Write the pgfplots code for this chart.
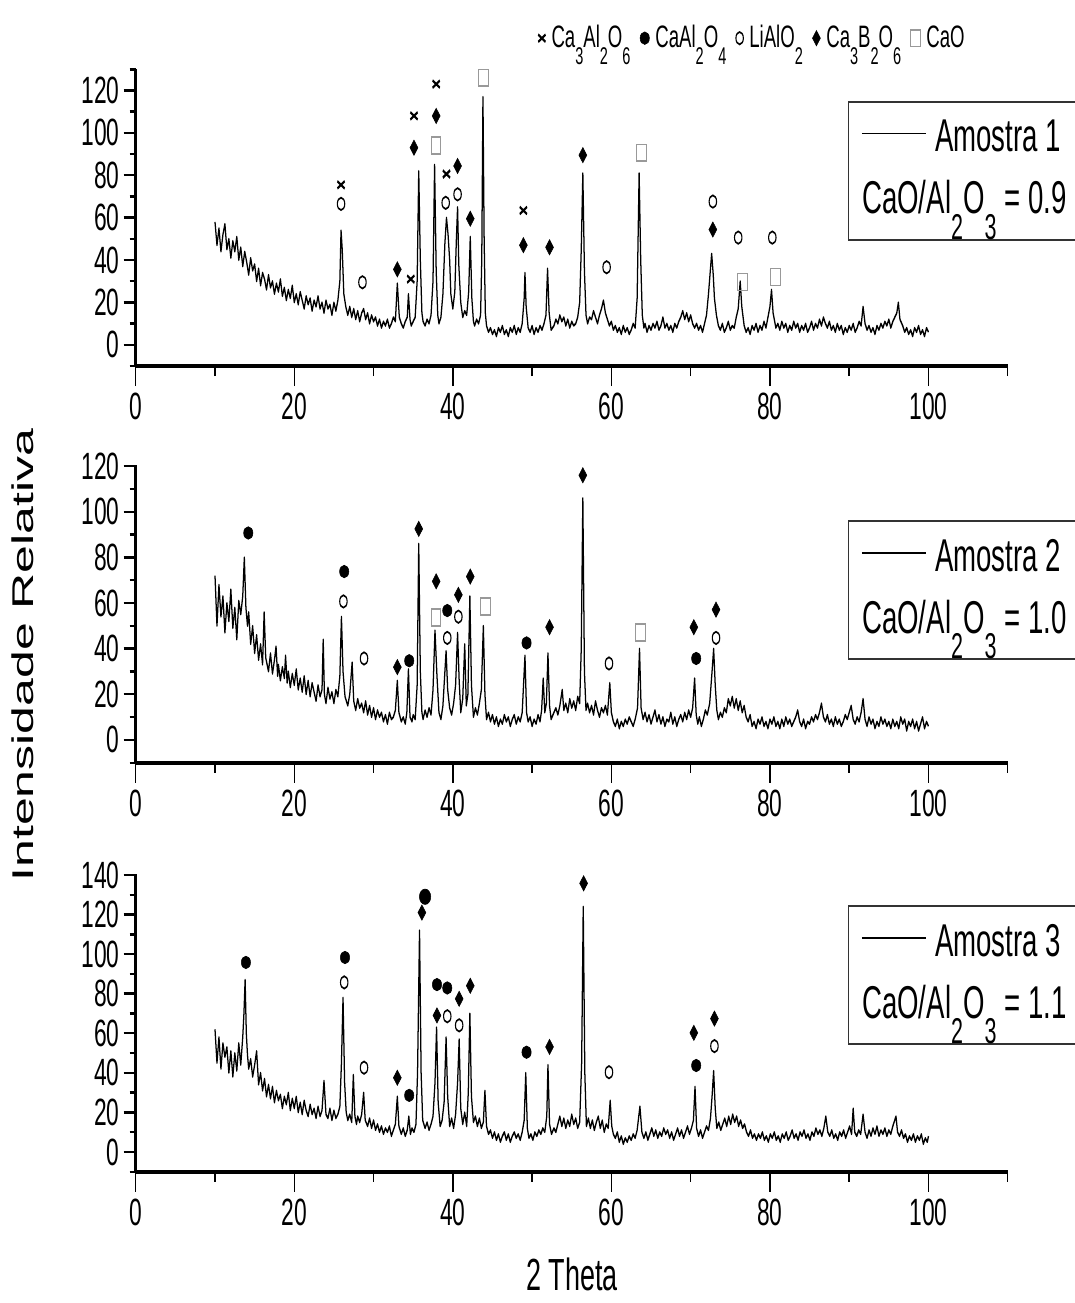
\documentclass[border=0pt]{standalone}
\usepackage{graphicx}
\usepackage{fontspec}
\setmainfont{Liberation Sans}
\usepackage{pgfplots}
\pgfplotsset{compat=1.18}
\newcommand{\sub}[1]{\raisebox{-0.55em}{\scalebox{0.78}{#1}}}
\pgfplotsset{
  xrdaxis/.style={
    scale only axis, width=726.7pt,
    xmin=0, xmax=110,
    axis x line=bottom, axis y line=left,
    axis line style={-},
    x axis line style={line width=2pt},
    y axis line style={line width=2.6pt},
    tick align=outside,
    xtick={0,20,...,100}, minor xtick={10,30,...,110},
    major tick length=10pt, minor tick length=5pt,
    tick style={black, line width=1.2pt},
    tick label style={font=\fontsize{19}{19}\selectfont},
    /pgf/number format/assume math mode=true,
    clip=false,
  },
  data/.style={black, line width=1.05pt, line join=round, no markers, forget plot},
  mX/.style={only marks, mark=x, mark size=4.3pt, mark options={black, line width=1.3pt, yscale=0.6}},
  mDot/.style={only marks, mark=*, mark size=3.1pt, mark options={black, fill=black, xscale=1.25}},
  mO/.style={only marks, mark=o, mark size=3.1pt, mark options={black, line width=0.9pt}},
  mDia/.style={only marks, mark=diamond*, mark size=3.8pt, mark options={black, fill=black, xscale=1.15}},
  mSq/.style={only marks, mark=square, mark size=4pt, mark options={black!40, line width=0.8pt, yscale=1.06}},
}
\begin{document}
\scalebox{0.6}[1]{%
\begin{tikzpicture}
\useasboundingbox (0,0) rectangle (895pt,-651.5pt);
% ---------------- Panel 1 ----------------
\begin{axis}[xrdaxis, height=148.35pt, at={(113.1pt,-183pt)}, anchor=south west,
  ymin=-10, ymax=130, ytick={0,20,...,120}, minor ytick={-10,10,...,130},
  legend columns=-1,
  legend style={at={(0.955,1)}, anchor=south east, yshift=6pt, draw=none, fill=none,
    font=\fontsize{15.5}{18}\selectfont, inner sep=1pt,
    /tikz/every odd column/.append style={column sep=3pt},
    /tikz/every even column/.append style={column sep=6pt}},
  legend image code/.code={\draw[#1] plot coordinates {(0.12cm,0cm)};},
]
\addlegendimage{mX}\addlegendentry{Ca\sub{3}Al\sub{2}O\sub{6}}
\addlegendimage{mDot}\addlegendentry{CaAl\sub{2}O\sub{4}}
\addlegendimage{mO}\addlegendentry{LiAlO\sub{2}}
\addlegendimage{mDia}\addlegendentry{Ca\sub{3}B\sub{2}O\sub{6}}
\addlegendimage{mSq}\addlegendentry{CaO}
\addplot[data] coordinates {(10,58)(10.25,47)(10.5,55)(10.75,44)(11,52)(11.25,57)(11.5,45)(11.75,50)(12,41)(12.25,49)(12.5,44)(12.75,51)(13,40)(13.25,46)(13.5,37)(13.75,44)(14,39)(14.25,33)(14.5,41)(14.75,35)(15,38)(15.25,30)(15.5,36)(15.75,28)(16,34)(16.25,31)(16.5,26)(16.75,33)(17,27)(17.25,30)(17.5,24)(17.75,29)(18,25)(18.25,31)(18.5,23)(18.75,27)(19,21)(19.25,26)(19.5,22)(19.75,28)(20,20)(20.25,24)(20.5,19)(20.75,25)(21,21)(21.25,17)(21.5,23)(21.75,19)(22,22)(22.25,16)(22.5,21)(22.75,18)(23,23)(23.25,17)(23.5,20)(23.75,15)(24,21)(24.25,17)(24.5,19)(24.75,14)(25,20)(25.25,16)(25.5,21)(25.75,30)(25.9,54)(26.05,45)(26.25,24)(26.5,18)(26.75,14)(27,18)(27.25,13)(27.5,17)(27.75,12)(28,16)(28.25,11)(28.5,15)(28.75,17)(29,12)(29.25,15)(29.5,10)(29.75,14)(30,11)(30.25,13)(30.5,9)(30.75,12)(31,8)(31.25,11)(31.5,9)(31.75,12)(32,8)(32.25,10)(32.5,13)(32.75,11)(33,29)(33.25,13)(33.5,10)(33.75,8)(34,11)(34.25,13)(34.4,24)(34.6,12)(34.75,9)(35,11)(35.25,13)(35.5,30)(35.7,82)(35.9,40)(36.1,15)(36.25,11)(36.5,9)(36.75,12)(37,10)(37.25,14)(37.5,30)(37.7,85)(37.9,35)(38.1,14)(38.25,10)(38.5,13)(38.75,24)(39,48)(39.2,60)(39.4,52)(39.6,40)(39.75,24)(40,17)(40.25,25)(40.45,50)(40.6,65)(40.75,38)(41,20)(41.25,13)(41.5,16)(41.75,14)(42,25)(42.2,51)(42.4,22)(42.6,11)(42.75,9)(43,12)(43.25,10)(43.5,14)(43.65,40)(43.8,117)(43.95,50)(44.1,15)(44.25,9)(44.5,6)(44.75,8)(45,5)(45.25,7)(45.5,4)(45.75,8)(46,6)(46.25,9)(46.5,5)(46.75,7)(47,4)(47.25,8)(47.5,6)(47.75,9)(48,5)(48.25,8)(48.5,6)(48.75,10)(49,22)(49.1,34)(49.25,18)(49.5,8)(49.75,6)(50,9)(50.25,5)(50.5,8)(50.75,6)(51,9)(51.25,7)(51.5,10)(51.75,14)(51.95,36)(52.15,15)(52.4,7)(52.75,9)(53,12)(53.25,10)(53.5,14)(53.75,11)(54,13)(54.25,9)(54.5,12)(54.75,8)(55,11)(55.25,9)(55.5,10)(55.75,13)(56,20)(56.2,45)(56.4,81)(56.6,35)(56.8,14)(57,10)(57.25,13)(57.5,12)(57.75,16)(58,13)(58.25,10)(58.5,14)(58.75,17)(59,21)(59.25,15)(59.5,12)(59.75,9)(60,11)(60.25,7)(60.5,9)(60.75,6)(61,8)(61.25,5)(61.5,9)(61.75,6)(62,8)(62.25,5)(62.5,7)(62.75,10)(63,8)(63.25,22)(63.5,81)(63.7,40)(63.9,14)(64.1,8)(64.25,10)(64.5,6)(64.75,9)(65,7)(65.25,10)(65.5,8)(65.75,11)(66,7)(66.25,9)(66.5,13)(66.75,8)(67,10)(67.25,7)(67.5,9)(67.75,6)(68,10)(68.25,8)(68.5,11)(68.75,13)(69,16)(69.25,12)(69.5,15)(69.75,11)(70,14)(70.25,10)(70.5,8)(70.75,10)(71,7)(71.25,9)(71.5,6)(71.75,10)(72,14)(72.25,24)(72.5,36)(72.65,43)(72.85,33)(73,22)(73.25,14)(73.5,9)(73.75,7)(74,10)(74.25,6)(74.5,8)(74.75,11)(75,7)(75.25,9)(75.5,8)(75.75,13)(76,17)(76.25,30)(76.45,18)(76.75,9)(77,6)(77.25,8)(77.5,5)(77.75,9)(78,7)(78.25,10)(78.5,6)(78.75,9)(79,7)(79.25,11)(79.5,8)(79.75,13)(80,18)(80.2,26)(80.4,15)(80.75,8)(81,10)(81.25,7)(81.5,11)(81.75,8)(82,10)(82.25,6)(82.5,9)(82.75,7)(83,11)(83.25,8)(83.5,10)(83.75,6)(84,9)(84.25,7)(84.5,10)(84.75,6)(85,8)(85.25,11)(85.5,7)(85.75,10)(86,8)(86.25,12)(86.5,9)(86.75,13)(87,10)(87.25,8)(87.5,11)(87.75,7)(88,9)(88.25,6)(88.5,10)(88.75,7)(89,9)(89.25,5)(89.5,8)(89.75,6)(90,9)(90.25,7)(90.5,10)(90.75,6)(91,8)(91.25,11)(91.5,9)(91.75,18)(92,10)(92.25,7)(92.5,9)(92.75,6)(93,8)(93.25,5)(93.5,9)(93.75,7)(94,10)(94.25,8)(94.5,11)(94.75,9)(95,12)(95.25,8)(95.5,11)(95.75,13)(96,15)(96.2,20)(96.4,12)(96.75,9)(97,6)(97.25,8)(97.5,5)(97.75,7)(98,4)(98.25,8)(98.5,6)(98.75,9)(99,5)(99.25,7)(99.5,4)(99.75,8)(100,6)};
\addplot[mX, forget plot] coordinates {(25.9,75.5)(34.7,31)(35.1,108)(37.9,123)(39.2,80.6)(48.9,63.4)};
\addplot[mO, forget plot] coordinates {(25.9,66.5)(28.6,29.5)(39.1,67)(40.6,71)(59.4,36.6)(72.8,67.6)(76.0,50.6)(80.3,50.6)};
\addplot[mDia, forget plot] coordinates {(33.0,35.6)(35.1,93)(37.9,108)(40.6,84.4)(42.2,59.5)(48.9,47)(52.2,46)(56.4,89.5)(72.8,54.4)};
\addplot[mSq, forget plot] coordinates {(37.9,94)(43.9,126)(63.8,90.6)(76.5,29.7)(80.7,32)};
\end{axis}
% ---------------- Panel 2 ----------------
\begin{axis}[xrdaxis, height=148.85pt, at={(113.1pt,-381.35pt)}, anchor=south west,
  ymin=-10, ymax=120.5, ytick={0,20,...,120}, minor ytick={-10,10,...,110}]
\addplot[data] coordinates {(10,72)(10.25,50)(10.5,68)(10.75,54)(11,63)(11.25,47)(11.5,60)(11.75,52)(12,66)(12.25,49)(12.5,58)(12.75,44)(13,61)(13.25,55)(13.5,63)(13.7,80)(13.9,58)(14.1,50)(14.25,56)(14.5,42)(14.75,50)(15,38)(15.25,46)(15.5,35)(15.75,42)(16,33)(16.2,56)(16.4,36)(16.75,30)(17,38)(17.25,29)(17.5,35)(17.7,41)(17.9,28)(18,33)(18.25,26)(18.5,32)(18.75,27)(18.9,37)(19.1,25)(19.25,30)(19.5,23)(19.75,29)(20,24)(20.25,31)(20.5,22)(20.75,27)(21,21)(21.25,28)(21.5,20)(21.75,26)(22,19)(22.25,25)(22.5,21)(22.75,17)(23,24)(23.25,19)(23.5,22)(23.65,44)(23.8,20)(24,16)(24.25,23)(24.5,18)(24.75,21)(25,16)(25.25,22)(25.5,19)(25.75,28)(25.95,54)(26.15,30)(26.4,19)(26.75,15)(27,20)(27.3,34)(27.5,17)(27.75,13)(28,18)(28.25,14)(28.5,16)(28.75,12)(29,17)(29.25,11)(29.5,15)(29.75,10)(30,14)(30.25,9)(30.5,13)(30.75,10)(31,12)(31.25,8)(31.5,11)(31.75,7)(32,12)(32.25,9)(32.5,10)(32.75,13)(33,26)(33.2,12)(33.5,8)(33.75,10)(34,7)(34.2,12)(34.4,31)(34.6,10)(34.85,8)(35,11)(35.25,9)(35.5,24)(35.7,86)(35.9,30)(36.1,12)(36.25,9)(36.5,13)(36.75,10)(37,14)(37.25,11)(37.5,22)(37.75,48)(38,28)(38.25,12)(38.5,9)(38.75,15)(39,30)(39.15,39)(39.35,22)(39.6,14)(39.85,11)(40.1,16)(40.35,24)(40.6,47)(40.8,26)(41,12)(41.25,18)(41.5,42)(41.7,15)(41.9,20)(42.15,63)(42.35,24)(42.6,10)(42.85,14)(43.1,11)(43.35,16)(43.6,22)(43.85,50)(44.05,20)(44.25,9)(44.5,12)(44.75,8)(45,11)(45.25,7)(45.5,10)(45.75,6)(46,9)(46.25,7)(46.5,11)(46.75,8)(47,10)(47.25,6)(47.5,9)(47.75,11)(48,7)(48.25,10)(48.5,8)(48.75,12)(49.1,37)(49.3,12)(49.5,8)(49.75,10)(50,6)(50.25,9)(50.5,7)(50.75,11)(51,8)(51.2,13)(51.4,27)(51.6,12)(51.8,16)(52,38)(52.2,15)(52.4,9)(52.75,12)(53,14)(53.25,11)(53.5,15)(53.8,22)(54,13)(54.25,16)(54.5,12)(54.75,18)(55,14)(55.25,17)(55.5,13)(55.75,19)(56,16)(56.2,40)(56.4,106)(56.6,30)(56.8,13)(57,16)(57.25,12)(57.5,15)(57.75,11)(58,17)(58.25,13)(58.5,10)(58.75,14)(59,12)(59.25,15)(59.5,11)(59.8,25)(60,12)(60.25,8)(60.5,6)(60.75,9)(61,5)(61.25,8)(61.5,6)(61.75,9)(62,7)(62.25,10)(62.5,8)(62.75,6)(63,9)(63.3,14)(63.55,40)(63.75,14)(64,9)(64.25,12)(64.5,8)(64.75,11)(65,7)(65.25,10)(65.5,13)(65.75,8)(66,11)(66.25,7)(66.5,10)(66.75,6)(67,9)(67.25,8)(67.5,12)(67.75,7)(68,10)(68.25,6)(68.5,9)(68.75,11)(69,8)(69.25,12)(69.5,9)(69.75,13)(70,10)(70.25,14)(70.5,27)(70.7,11)(70.9,7)(71.1,10)(71.35,6)(71.6,9)(71.85,13)(72.1,11)(72.4,16)(72.7,30)(72.9,40)(73.1,24)(73.3,13)(73.5,9)(73.75,12)(74,10)(74.25,14)(74.5,12)(74.75,18)(75,15)(75.25,19)(75.5,14)(75.75,18)(76,13)(76.25,17)(76.5,12)(76.75,15)(77,10)(77.25,8)(77.5,11)(77.75,6)(78,8)(78.25,5)(78.5,9)(78.75,7)(79,10)(79.25,6)(79.5,8)(79.75,5)(80,9)(80.25,7)(80.5,10)(80.75,6)(81,8)(81.25,5)(81.5,9)(81.75,6)(82,10)(82.25,7)(82.5,9)(82.75,6)(83,8)(83.25,10)(83.5,13)(83.75,8)(84,6)(84.25,9)(84.5,5)(84.75,8)(85,7)(85.25,10)(85.5,8)(85.75,11)(86,9)(86.25,12)(86.5,16)(86.75,10)(87,8)(87.25,11)(87.5,7)(87.75,9)(88,6)(88.25,10)(88.5,7)(88.75,9)(89,6)(89.25,8)(89.5,11)(89.75,9)(90,12)(90.25,15)(90.5,9)(90.75,7)(91,10)(91.25,8)(91.5,12)(91.75,18)(92,9)(92.25,6)(92.5,10)(92.75,7)(93,9)(93.25,5)(93.5,8)(93.75,6)(94,10)(94.25,7)(94.5,9)(94.75,6)(95,8)(95.25,5)(95.5,9)(95.75,6)(96,8)(96.25,5)(96.5,10)(96.75,7)(97,9)(97.25,4)(97.5,8)(97.75,6)(98,9)(98.25,5)(98.5,8)(98.75,4)(99,7)(99.25,10)(99.5,5)(99.75,8)(100,6)};
\addplot[mDot, forget plot] coordinates {(14.2,90.7)(26.3,73.8)(34.5,34.7)(39.3,56.7)(49.3,42.5)(70.7,35.7)};
\addplot[mO, forget plot] coordinates {(26.2,60.7)(28.8,35.7)(39.3,44.7)(40.7,54)(59.7,33.5)(73.2,44.7)};
\addplot[mDia, forget plot] coordinates {(33.0,31.9)(35.7,92.5)(37.9,69.5)(40.7,63.6)(42.2,71.6)(52.2,49.4)(56.4,116)(70.4,49.4)(73.2,57.1)};
\addplot[mSq, forget plot] coordinates {(37.9,53.6)(44.1,58.5)(63.7,47.2)};
\end{axis}
% ---------------- Panel 3 ----------------
\begin{axis}[xrdaxis, height=148.85pt, at={(113.1pt,-585.85pt)}, anchor=south west,
  ymin=-10, ymax=140.5, ytick={0,20,...,140}, minor ytick={-10,10,...,130}]
\addplot[data] coordinates {(10,62)(10.25,45)(10.5,58)(10.75,42)(11,55)(11.25,48)(11.5,53)(11.75,40)(12,51)(12.25,38)(12.5,50)(12.75,41)(13,55)(13.25,44)(13.5,58)(13.65,70)(13.8,87)(13.95,60)(14.1,49)(14.25,42)(14.5,47)(14.75,38)(15,44)(15.25,51)(15.5,34)(15.75,40)(16,31)(16.25,37)(16.5,28)(16.75,34)(17,27)(17.25,33)(17.5,25)(17.75,31)(18,26)(18.25,29)(18.5,22)(18.75,28)(19,24)(19.25,30)(19.5,21)(19.75,27)(20,22)(20.25,28)(20.5,20)(20.75,25)(21,19)(21.25,26)(21.5,21)(21.75,18)(22,24)(22.25,19)(22.5,22)(22.75,17)(23,23)(23.25,18)(23.5,21)(23.75,36)(24,19)(24.25,17)(24.5,22)(24.75,16)(25,21)(25.25,17)(25.5,19)(25.75,23)(25.95,45)(26.15,78)(26.35,35)(26.55,20)(26.75,16)(27,19)(27.25,15)(27.45,39)(27.65,18)(27.85,14)(28,18)(28.25,15)(28.5,19)(28.75,30)(28.95,16)(29.25,13)(29.5,17)(29.75,12)(30,16)(30.25,11)(30.5,14)(30.75,10)(31,13)(31.25,9)(31.5,12)(31.75,10)(32,13)(32.25,8)(32.5,11)(32.75,14)(33,28)(33.2,13)(33.5,9)(33.75,12)(34,8)(34.25,11)(34.45,18)(34.65,9)(34.85,12)(35.1,10)(35.35,14)(35.55,40)(35.8,112)(36,40)(36.2,16)(36.5,12)(36.75,15)(37,11)(37.25,14)(37.5,18)(37.75,35)(37.95,63)(38.15,25)(38.4,13)(38.65,16)(38.9,25)(39.15,58)(39.35,28)(39.6,13)(39.85,17)(40.1,12)(40.35,19)(40.6,35)(40.8,57)(41,22)(41.25,14)(41.5,20)(41.75,13)(41.95,30)(42.15,70)(42.35,28)(42.6,15)(42.85,18)(43.1,13)(43.35,17)(43.6,12)(43.85,15)(44.05,31)(44.25,13)(44.5,9)(44.75,11)(45,7)(45.25,10)(45.5,6)(45.75,9)(46,5)(46.25,8)(46.5,10)(46.75,6)(47,9)(47.25,5)(47.5,8)(47.75,10)(48,7)(48.25,9)(48.5,6)(48.75,10)(49,16)(49.2,40)(49.4,12)(49.6,7)(49.85,9)(50.1,6)(50.35,10)(50.6,8)(50.85,11)(51.1,9)(51.35,12)(51.6,10)(51.85,18)(52,44)(52.2,14)(52.45,9)(52.75,12)(53,10)(53.25,14)(53.5,18)(53.75,13)(54,17)(54.25,12)(54.5,16)(54.75,13)(55,19)(55.25,14)(55.5,17)(55.75,12)(56,15)(56.25,45)(56.45,124)(56.65,40)(56.85,13)(57.1,17)(57.35,12)(57.6,16)(57.85,11)(58.1,15)(58.35,18)(58.6,12)(58.85,16)(59.1,10)(59.35,14)(59.6,12)(59.85,26)(60.05,13)(60.25,9)(60.5,7)(60.75,10)(61,5)(61.25,8)(61.5,4)(61.75,7)(62,5)(62.25,8)(62.5,6)(62.75,9)(63,7)(63.25,11)(63.6,23)(63.85,10)(64.1,7)(64.35,10)(64.6,6)(64.85,9)(65.1,12)(65.35,8)(65.6,11)(65.85,7)(66.1,10)(66.35,8)(66.6,12)(66.85,9)(67.1,11)(67.35,7)(67.6,10)(67.85,6)(68.1,9)(68.35,12)(68.6,8)(68.85,11)(69.1,7)(69.35,10)(69.6,13)(69.85,9)(70.1,12)(70.35,16)(70.55,33)(70.75,12)(71,8)(71.25,11)(71.5,7)(71.75,10)(72,13)(72.25,11)(72.5,17)(72.7,28)(72.9,41)(73.1,22)(73.3,12)(73.55,15)(73.8,11)(74.05,14)(74.3,17)(74.55,13)(74.8,18)(75.05,14)(75.3,19)(75.55,15)(75.8,18)(76.05,13)(76.3,16)(76.55,12)(76.8,14)(77.05,10)(77.3,8)(77.55,11)(77.8,7)(78.05,9)(78.3,6)(78.55,9)(78.8,7)(79.05,10)(79.3,6)(79.55,8)(79.8,5)(80.05,9)(80.3,7)(80.55,10)(80.8,6)(81.05,8)(81.3,5)(81.55,9)(81.8,7)(82.05,10)(82.3,6)(82.55,8)(82.8,11)(83.05,7)(83.3,9)(83.55,6)(83.8,10)(84.05,8)(84.3,11)(84.55,7)(84.8,9)(85.05,6)(85.3,10)(85.55,8)(85.8,12)(86.05,9)(86.3,11)(86.55,8)(86.8,12)(87.05,18)(87.3,10)(87.55,8)(87.8,11)(88.05,7)(88.3,9)(88.55,6)(88.8,10)(89.05,8)(89.3,11)(89.55,7)(89.8,10)(90.05,13)(90.3,9)(90.5,22)(90.7,10)(90.95,8)(91.2,11)(91.45,9)(91.75,19)(92,10)(92.25,7)(92.5,11)(92.75,8)(93,12)(93.25,9)(93.5,13)(93.75,8)(94,11)(94.25,9)(94.5,12)(94.75,8)(95,11)(95.25,9)(95.5,13)(95.9,18)(96.1,10)(96.35,8)(96.6,11)(96.85,7)(97.1,9)(97.35,5)(97.6,8)(97.85,6)(98.1,9)(98.35,5)(98.6,8)(98.85,6)(99.1,9)(99.35,4)(99.6,7)(99.85,5)(100,8)};
\addplot[mDot, forget plot] coordinates {(13.9,95.8)(26.4,98.3)(34.5,28.6)(38.0,84.6)(39.3,82.9)(49.3,50.4)(70.7,43.7)};
\addplot[mDot, mark size=3.8pt, forget plot] coordinates {(36.5,129)};
\addplot[mO, forget plot] coordinates {(26.3,85.7)(28.8,42.6)(39.3,68.6)(40.8,64)(59.7,40.3)(73.0,53.5)};
\addplot[mDia, forget plot] coordinates {(33.0,37.5)(36.1,121)(38.0,69)(40.8,77.4)(42.2,84)(52.2,53.1)(56.5,135.8)(70.4,60.2)(73.0,67.4)};
\end{axis}
% ---------------- sample boxes ----------------
\foreach \top/\num/\ratio in {50.85/1/0.9, 260.5/2/1.0, 453/3/1.1}{
  \draw[line width=0.9pt, black!80] (706.7pt,-\top pt) rectangle (910pt,-\top pt-69pt);
  \draw[line width=0.6pt, black] (718.3pt,-\top pt-16pt) -- (771.7pt,-\top pt-16pt);
  \node[anchor=base west, inner sep=0pt, font=\fontsize{23}{27}\selectfont] at (779pt,-\top pt-25pt) {Amostra \num};
  \node[anchor=base west, inner sep=0pt, font=\fontsize{23}{27}\selectfont] at (718.3pt,-\top pt-56pt) {CaO/Al\sub{2}O\sub{3} = \ratio};
}
% ---------------- axis titles ----------------
\node[rotate=90, anchor=base, inner sep=0pt, font=\fontsize{25}{30}\selectfont] at (27.5pt,-327.5pt) {Intensidade Relativa};
\node[anchor=base, inner sep=0pt, font=\fontsize{22.5}{26}\selectfont] at (476.7pt,-645pt) {2 Theta};
\end{tikzpicture}}
\end{document}
